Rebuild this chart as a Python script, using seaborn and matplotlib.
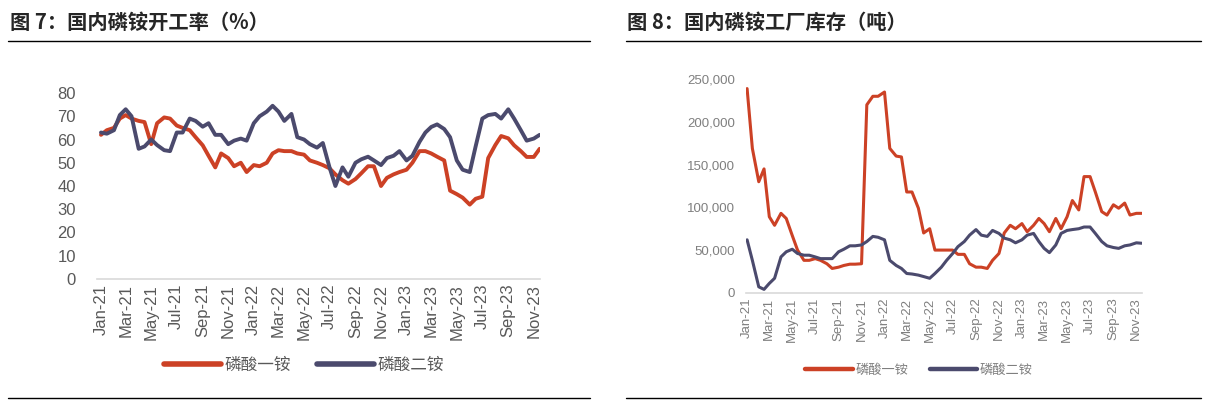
import matplotlib

matplotlib.use("Agg")
import matplotlib.dates as mdates
import matplotlib.pyplot as plt
import matplotlib.ticker as mticker
import pandas as pd
import seaborn as sns
from matplotlib.lines import Line2D

# semi-monthly observations, Jan-2021 .. mid Nov-2023
DATES = pd.date_range("2021-01-01", "2023-11-15", freq="SMS")

MAP_RATE = [
    62, 64, 65, 69, 70.5, 69, 68, 67.5, 58, 67, 69.5, 69, 66, 65, 64, 61,
    57.5, 53, 48, 54, 52, 48.5, 50, 46, 49, 48.5, 50, 54, 55.4, 55, 55, 54,
    53.5, 51, 50, 49, 47.6, 45, 42.5, 41, 43, 45.5, 48.5, 48.5, 40, 43.5, 45,
    46, 47, 50, 55, 55, 54, 52.6, 51, 38, 36.5, 35, 32, 34.5, 35.4, 52, 57.6,
    61.5, 60.5, 57.5, 55, 52.5, 52.5, 56,
]
DAP_RATE = [
    63, 62.5, 64, 70.5, 73, 70, 56, 57, 60, 57.6, 55.4, 55, 63, 63, 69, 68,
    65.5, 67, 62, 62, 58, 59.5, 60.4, 59.5, 67, 70, 72, 74.5, 72, 68, 71, 61,
    60, 58, 56.5, 58.5, 48, 40, 48, 44, 50, 51.5, 52.6, 51, 49, 52, 53, 55,
    51, 53, 59, 63, 65.4, 66.5, 64.5, 61, 51, 47, 46, 57, 69, 70.5, 71, 69,
    73, 69, 64, 59.5, 60.4, 62,
]
MAP_STOCK = [
    239000, 169000, 130000, 145000, 89000, 79000, 93000, 87000, 67000, 50000,
    38000, 38000, 40000, 38000, 34000, 28500, 30000, 32000, 33500, 33500,
    34000, 220000, 230000, 230000, 235000, 169000, 160000, 159000, 118000,
    118000, 99000, 70000, 75000, 50000, 50000, 50000, 50000, 45000, 45000,
    34000, 30000, 30000, 28500, 38000, 46000, 70000, 79000, 75000, 81000,
    71500, 79000, 87000, 81000, 71500, 87000, 75000, 89000, 108000, 97000,
    136000, 136000, 118000, 95000, 91000, 103000, 99000, 105000, 91000,
    93000, 93000,
]
DAP_STOCK = [
    62000, 38000, 7000, 4000, 11000, 17000, 42000, 48000, 51000, 46000, 44000,
    44000, 42000, 40000, 40000, 40000, 48000, 51000, 55000, 55000, 56000,
    60000, 66000, 65000, 62000, 38000, 32000, 28500, 22600, 22000, 20700,
    19000, 17000, 22600, 30000, 38000, 46000, 54000, 60000, 67500, 74000,
    67500, 66000, 73000, 69500, 64000, 62000, 58500, 62000, 67500, 69500,
    60000, 52000, 47000, 56000, 69500, 73000, 74000, 75000, 77000, 77000,
    69500, 60000, 55000, 53000, 52000, 55000, 56000, 58500, 58000,
]

SERIES = ["磷酸一铵", "磷酸二铵"]
PALETTE = {"磷酸一铵": "#CC4125", "磷酸二铵": "#4B4A6D"}
TITLES = ["图 7：国内磷铵开工率（%）", "图 8：国内磷铵工厂库存（吨）"]
CJK = ["Noto Sans CJK SC", "DejaVu Sans"]


def _long(a, b):
    df = pd.DataFrame({"date": DATES, SERIES[0]: a, SERIES[1]: b})
    return df.melt(id_vars="date", var_name="品种", value_name="value")


def _style_axis(ax, fs, color, ypad):
    ax.set_xlabel("")
    ax.set_ylabel("")
    ax.xaxis.set_major_locator(mdates.MonthLocator(bymonth=[1, 3, 5, 7, 9, 11]))
    ax.xaxis.set_major_formatter(mdates.DateFormatter("%b-%y"))
    ax.tick_params(axis="x", rotation=90, labelsize=fs, colors="#D9D9D9",
                   labelcolor=color, direction="in", length=5, width=1)
    ax.tick_params(axis="y", labelsize=fs, labelcolor=color, length=0, pad=ypad)
    for s in ["top", "right", "left"]:
        ax.spines[s].set_visible(False)
    ax.spines["bottom"].set_color("#D9D9D9")
    ax.spines["bottom"].set_linewidth(1.2)
    ax.grid(False)
    for lbl in ax.get_xticklabels() + ax.get_yticklabels():
        lbl.set_family(["Liberation Sans", "DejaVu Sans"])


sns.set_theme(style="white")
plt.rcParams["font.family"] = CJK

fig = plt.figure(figsize=(12.1, 4.0), dpi=100)

# left: operating rate
ax1 = fig.add_axes([0.080, 0.3025, 0.366, 0.465])
sns.lineplot(data=_long(MAP_RATE, DAP_RATE), x="date", y="value", hue="品种",
             palette=PALETTE, linewidth=2.8, ax=ax1, legend=False)
ax1.set_ylim(0, 80)
ax1.set_yticks(range(0, 81, 10))
ax1.set_xlim(pd.Timestamp("2020-12-22"), DATES[-1])
_style_axis(ax1, 12, "#595959", 15)

# right: factory inventory
ax2 = fig.add_axes([0.6165, 0.268, 0.327, 0.534])
sns.lineplot(data=_long(MAP_STOCK, DAP_STOCK), x="date", y="value", hue="品种",
             palette=PALETTE, linewidth=2.2, ax=ax2, legend=False)
ax2.set_ylim(0, 250000)
ax2.set_yticks(range(0, 250001, 50000))
ax2.yaxis.set_major_formatter(mticker.StrMethodFormatter("{x:,.0f}"))
ax2.set_xlim(pd.Timestamp("2020-12-29"), DATES[-1])
_style_axis(ax2, 9.5, "#7F7F7F", 8)

# legends below each chart
for ax, cx, cy, fs, lw, hl, col in [
    (ax1, 304 / 1210, 1 - 365 / 400, 12, 4.0, 3.4, "#595959"),
    (ax2, 919 / 1210, 1 - 370 / 400, 9.5, 3.2, 3.6, "#7F7F7F"),
]:
    handles = [Line2D([], [], color=PALETTE[s], lw=lw) for s in SERIES]
    fig.legend(handles, SERIES, loc="center", bbox_to_anchor=(cx, cy), ncol=2,
               frameon=False, fontsize=fs, handlelength=hl, handletextpad=0.2,
               columnspacing=1.6, labelcolor=col)

# panel titles and rules
fig.text(10 / 1210, 1 - 22 / 400, TITLES[0], fontsize=14.6, fontweight="bold",
         color="#262626", va="center", ha="left")
fig.text(627 / 1210, 1 - 22 / 400, TITLES[1], fontsize=14.6, fontweight="bold",
         color="#262626", va="center", ha="left")
for x0, x1 in [(8, 590), (626, 1201)]:
    for yy in (41, 398):
        fig.add_artist(Line2D([x0 / 1210, x1 / 1210], [1 - yy / 400] * 2,
                              color="black", lw=1.0))

fig.savefig("out.png", dpi=100)
